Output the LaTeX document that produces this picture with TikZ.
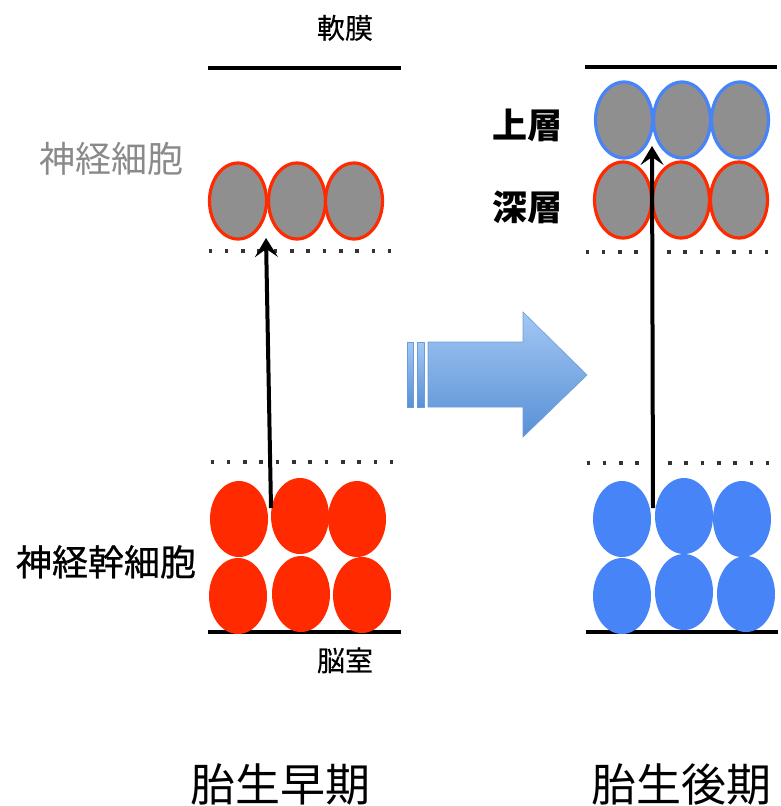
\documentclass[tikz,border=0pt]{standalone}
\usepackage{fontspec}
\setmainfont{Noto Sans CJK JP}
\newfontfamily\heavyfont[FakeBold=0.7]{Noto Sans CJK JP}
\newfontfamily\midfont[FakeBold=0.4]{Noto Sans CJK JP}
\usetikzlibrary{shapes.geometric,arrows.meta}
\definecolor{cellgray}{HTML}{8F8F8F}
\definecolor{cellred}{HTML}{FF2A00}
\definecolor{cellblue}{HTML}{4684F8}
\definecolor{labelgray}{HTML}{8A8A8A}
\definecolor{arrtop}{HTML}{A3C7F3}
\definecolor{arrbot}{HTML}{5890D6}
\definecolor{arredge}{HTML}{6B9CDA}
\tikzset{
  neuronR/.style={ellipse,inner sep=0pt,minimum width=57pt,minimum height=76pt,fill=cellgray,draw=cellred,line width=3.2pt},
  neuronB/.style={neuronR,draw=cellblue},
  stemR/.style={ellipse,inner sep=0pt,minimum width=58pt,minimum height=76pt,fill=cellred},
  stemB/.style={stemR,fill=cellblue},
  surface/.style={line width=3.2pt,black},
  zone/.style={line width=3.6pt,line cap=butt,dash pattern=on 3.6pt off 12.7pt,black!80},
  migr/.style={line width=4pt,black,-{Stealth[length=19pt,width=23pt,inset=8pt]}},
  lbl/.style={inner sep=0pt,anchor=base},
}
\begin{document}
\begin{tikzpicture}[x=1pt,y=-1pt]
\useasboundingbox (0,0) rectangle (781,806);
% ---------- left panel ----------
\draw[surface] (208,68) coordinate (lt1) -- (401,68) coordinate (lt2);
\draw[surface] (208,632) coordinate (lb1) -- (401,632) coordinate (lb2);
\draw[zone] (208.5,251) coordinate (ld1) -- (395,251) coordinate (ld2);
\draw[zone] (210.5,462) coordinate (ld3) -- (397,462) coordinate (ld4);
\node[neuronR] (ln1) at (238,201) {};
\node[neuronR] (ln2) at (297,201) {};
\node[neuronR] (ln3) at (354,201) {};
\node[stemR] (ls1) at (239,519) {};
\node[stemR] (ls2) at (300,516) {};
\node[stemR] (ls3) at (357,519) {};
\node[stemR] (ls4) at (238,596) {};
\node[stemR] (ls5) at (301,594) {};
\node[stemR] (ls6) at (362,595) {};
\coordinate (la1) at (271,508);
\coordinate (la2) at (266,238);
\draw[migr] (la1) -- (la2);
\node[lbl,font=\midfont\fontsize{28}{30}\selectfont] (pia1) at (345,38.5) {軟膜};
\node[lbl,font=\fontsize{36}{38}\selectfont,text=labelgray] (neu) at (111,172.5) {神経細胞};
\node[lbl,font=\heavyfont\fontsize{36}{38}\selectfont] (nsc) at (106,575.5) {神経幹細胞};
\node[lbl,font=\midfont\fontsize{28}{30}\selectfont] (ven1) at (345,671) {脳室};
\node[lbl,anchor=base west,font=\fontsize{45}{48}\selectfont] (early) at (190,801) {胎生早期};
% ---------- big arrow ----------
\shade[top color=arrtop,bottom color=arrbot,draw=arredge,line width=0.6pt]
  (428,342) coordinate (ba1) -- (523,342) -- (523,312) -- (587,375) coordinate (batip) -- (523,437) -- (523,407) -- (428,407) -- cycle;
\shade[top color=arrtop,bottom color=arrbot,draw=arredge,line width=0.6pt] (417,342) rectangle (424.5,407);
\shade[top color=arrtop,bottom color=arrbot,draw=arredge,line width=0.6pt] (407,342) rectangle (413.5,407);
% ---------- right panel ----------
\draw[surface] (585,67) coordinate (rt1) -- (777,67) coordinate (rt2);
\draw[surface] (586,632) coordinate (rb1) -- (778,632) coordinate (rb2);
\draw[zone] (585.5,252) coordinate (rd1) -- (772,252) coordinate (rd2);
\draw[zone] (586.5,463) coordinate (rd3) -- (773,463) coordinate (rd4);
\node[neuronB] (ru1) at (624,120) {};
\node[neuronB] (ru2) at (682,120) {};
\node[neuronB] (ru3) at (740,120) {};
\node[neuronR] (rl1) at (623,200) {};
\node[neuronR] (rl2) at (681,200) {};
\node[neuronR] (rl3) at (739,200) {};
\node[stemB] (rs1) at (622,519) {};
\node[stemB] (rs2) at (684,516) {};
\node[stemB] (rs3) at (742,519) {};
\node[stemB] (rs4) at (622,596) {};
\node[stemB] (rs5) at (684,592) {};
\node[stemB] (rs6) at (746,594) {};
\coordinate (ra1) at (653,508);
\coordinate (ra2) at (652,146);
\draw[migr] (ra1) -- (ra2);
\node[lbl,font=\bfseries\fontsize{35}{38}\selectfont] (upper) at (527,138) {上層};
\node[lbl,font=\bfseries\fontsize{35}{38}\selectfont] (deep) at (527,220) {深層};
\node[lbl,anchor=base west,font=\fontsize{45}{48}\selectfont] (late) at (591,801) {胎生後期};
\end{tikzpicture}
\end{document}
